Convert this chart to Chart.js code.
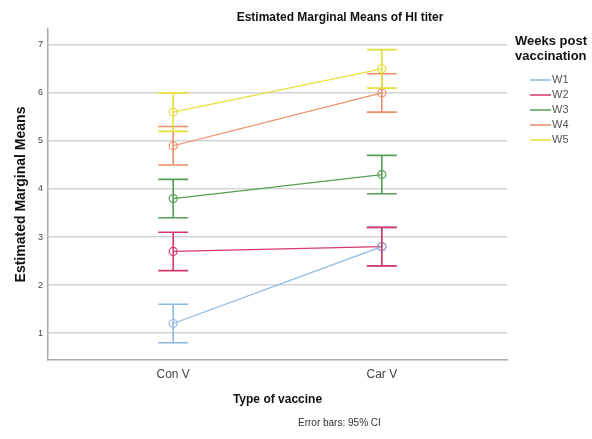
<!DOCTYPE html>
<html>
<head>
<meta charset="utf-8">
<script src="https://cdn.jsdelivr.net/npm/chart.js@4/dist/chart.umd.min.js"></script>
<style>
  html, body { margin: 0; padding: 0; background: #fff; }
  #wrap { width: 592px; height: 439px; position: relative; }
</style>
</head>
<body>
<div id="wrap"><canvas id="myChart"></canvas></div>
<script>
// categories on the x axis (placed at 0 and 1)
const vaccines = ['Con V', 'Car V'];
const weeks = ['W1', 'W2', 'W3', 'W4', 'W5'];
const weekColors = ['#8fb8e2', '#d5396b', '#55a055', '#ef8d68', '#e6e03c'];

// estimated marginal means, one array per week: [Con V, Car V]
const meanW1 = [1.2, 2.8];
const meanW2 = [2.7, 2.8];
const meanW3 = [3.8, 4.3];
const meanW4 = [4.9, 6.0];
const meanW5 = [5.6, 6.5];

// 95% CI bounds
const lowW1 = [0.8, 2.4];
const highW1 = [1.6, 3.2];
const lowW2 = [2.3, 2.4];
const highW2 = [3.1, 3.2];
const lowW3 = [3.4, 3.9];
const highW3 = [4.2, 4.7];
const lowW4 = [4.5, 5.6];
const highW4 = [5.3, 6.4];
const lowW5 = [5.2, 6.1];
const highW5 = [6.0, 6.9];

const yTicks = [1, 2, 3, 4, 5, 6, 7];

const means = [meanW1, meanW2, meanW3, meanW4, meanW5];
const lows = [lowW1, lowW2, lowW3, lowW4, lowW5];
const highs = [highW1, highW2, highW3, highW4, highW5];

const datasets = weeks.map(function (w, i) {
	return {
		label: w,
		data: means[i].map(function (v, j) { return { x: j, y: v, lo: lows[i][j], hi: highs[i][j] }; }),
		borderColor: weekColors[i],
		backgroundColor: 'transparent',
		borderWidth: 1.2,
		pointRadius: 4,
		pointBorderWidth: 1.2,
		pointBackgroundColor: 'rgba(255,255,255,0)',
		pointBorderColor: weekColors[i],
		showLine: true,
		tension: 0
	};
});

// draws the CI whiskers with the scales of the chart
const errorBars = {
	id: 'errorBars',
	afterDatasetsDraw(chart) {
		const ctx = chart.ctx;
		const xs = chart.scales.x, ys = chart.scales.y;
		chart.data.datasets.forEach(function (ds) {
			ctx.save();
			ctx.strokeStyle = ds.borderColor;
			ctx.lineWidth = 1.6;
			ds.data.forEach(function (p) {
				const x = xs.getPixelForValue(p.x);
				const yl = ys.getPixelForValue(p.lo);
				const yh = ys.getPixelForValue(p.hi);
				ctx.beginPath();
				ctx.moveTo(x, yl); ctx.lineTo(x, yh);
				ctx.moveTo(x - 15, yl); ctx.lineTo(x + 15, yl);
				ctx.moveTo(x - 15, yh); ctx.lineTo(x + 15, yh);
				ctx.stroke();
			});
			ctx.restore();
		});
	}
};

// title, legend and footnote
const extras = {
	id: 'extras',
	afterDraw(chart) {
		const ctx = chart.ctx;
		ctx.save();
		ctx.fillStyle = '#111';
		ctx.textBaseline = 'middle';
		ctx.textAlign = 'center';
		ctx.font = 'bold 12px "Liberation Sans", Arial, sans-serif';
		ctx.fillText('Estimated Marginal Means of HI titer', 340, 18);

		ctx.textAlign = 'left';
		ctx.font = 'bold 13px "Liberation Sans", Arial, sans-serif';
		ctx.fillText('Weeks post', 515, 41);
		ctx.fillText('vaccination', 515, 56);

		ctx.font = '11px "Liberation Sans", Arial, sans-serif';
		chart.data.datasets.forEach(function (ds, i) {
			const y = 80 + i * 15;
			ctx.strokeStyle = ds.borderColor;
			ctx.lineWidth = 1.5;
			ctx.beginPath();
			ctx.moveTo(530, y); ctx.lineTo(551, y);
			ctx.stroke();
			ctx.fillStyle = '#555';
			ctx.fillText(ds.label, 552, y);
		});

		ctx.fillStyle = '#333';
		ctx.font = '10px "Liberation Sans", Arial, sans-serif';
		ctx.fillText('Error bars: 95% CI', 298, 423);
		ctx.restore();
	}
};

new Chart(document.getElementById('myChart'), {
	type: 'scatter',
	data: { datasets: datasets },
	plugins: [errorBars, extras],
	options: {
		responsive: true,
		maintainAspectRatio: false,
		animation: false,
		events: [],
		layout: {
			padding: { top: 29, right: 85, left: 0, bottom: 0 }
		},
		plugins: {
			legend: { display: false },
			tooltip: { enabled: false }
		},
		scales: {
			x: {
				type: 'linear',
				min: -0.6,
				max: 1.6,
				afterBuildTicks: function (scale) {
					scale.ticks = vaccines.map(function (v, i) { return { value: i }; });
				},
				afterFit: function (scale) { scale.height = 79; },
				grid: { display: false, drawTicks: false },
				border: { display: true, color: '#aaa', width: 1.5 },
				ticks: {
					padding: 7,
					color: '#444',
					font: { size: 12, family: '"Liberation Sans", Arial, sans-serif' },
					callback: function (value) { return vaccines[value]; }
				},
				title: {
					display: true,
					text: 'Type of vaccine',
					color: '#111',
					font: { size: 12, weight: 'bold', family: '"Liberation Sans", Arial, sans-serif' },
					padding: { top: 0, bottom: 32 }
				}
			},
			y: {
				min: 0.44,
				max: 7.33,
				afterBuildTicks: function (scale) {
					scale.ticks = yTicks.map(function (v) { return { value: v }; });
				},
				afterFit: function (scale) { scale.width = 48; },
				grid: { color: '#d4d4d4', lineWidth: 1.5, drawTicks: false },
				border: { display: true, color: '#aaa', width: 1.5 },
				ticks: {
					padding: 5,
					color: '#444',
					font: { size: 9, family: '"Liberation Sans", Arial, sans-serif' }
				},
				title: {
					display: true,
					text: 'Estimated Marginal Means',
					color: '#111',
					font: { size: 14, weight: 'bold', family: '"Liberation Sans", Arial, sans-serif' },
					padding: { top: 13, bottom: 0 }
				}
			}
		}
	}
});
</script>
</body>
</html>
